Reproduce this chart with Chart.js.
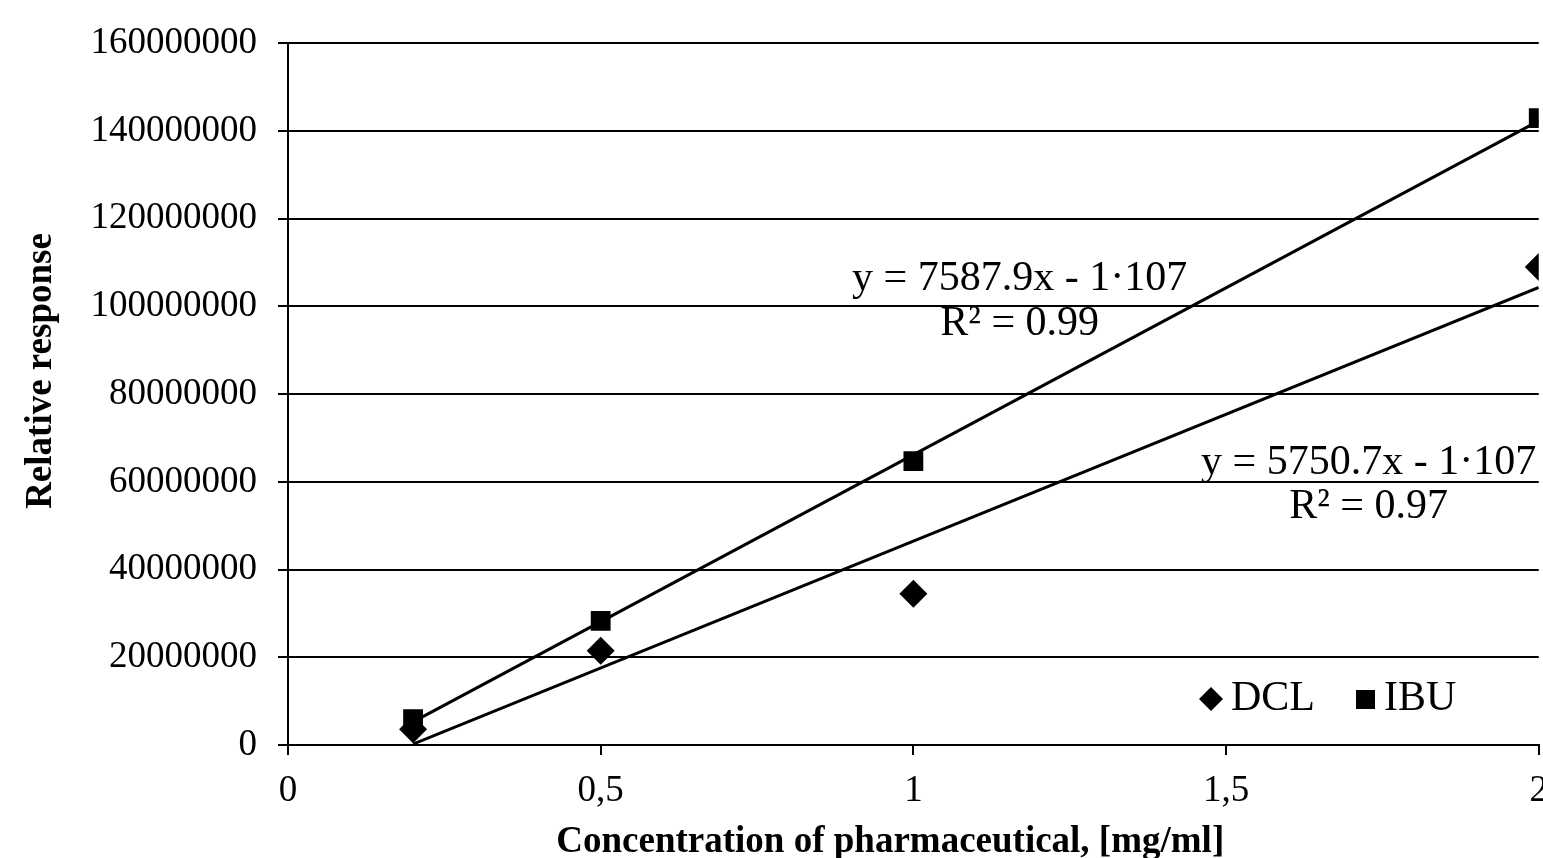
<!DOCTYPE html>
<html>
<head>
<meta charset="utf-8">
<script src="https://cdn.jsdelivr.net/npm/chart.js@4"></script>
<style>
  html, body { margin: 0; padding: 0; background: #fff; overflow: hidden; }
  #wrap { width: 1562px; height: 858px; }
</style>
</head>
<body>
<div id="wrap"><canvas id="calib"></canvas></div>
<script>
// values
const concentrations = [0.2, 0.5, 1, 2];
const dclResponse = [3600000, 21500000, 34500000, 109000000];
const ibuResponse = [5900000, 28300000, 64700000, 142900000];
const seriesNames = ['DCL', 'IBU'];
const xTicks = [0, 0.5, 1, 1.5, 2];
const yTicks = [0, 20000000, 40000000, 60000000, 80000000, 100000000, 120000000, 140000000, 160000000];
const eqLabels = [
    ['y = 5750.7x - 1·107', 'R² = 0.97'],
    ['y = 7587.9x - 1·107', 'R² = 0.99']
];

const serif = "'Times New Roman', 'Liberation Serif', serif";
const pad = n => '\u00a0'.repeat(n); // nudges centred titles off the plot centre

// least squares line through the points, drawn from first to last x
function trend(xs, ys) {
    const n = xs.length;
    const mx = xs.reduce((a, b) => a + b, 0) / n;
    const my = ys.reduce((a, b) => a + b, 0) / n;
    let sxy = 0, sxx = 0;
    for (let i = 0; i < n; i++) {
        sxy += (xs[i] - mx) * (ys[i] - my);
        sxx += (xs[i] - mx) * (xs[i] - mx);
    }
    const k = sxy / sxx, b = my - k * mx;
    const x0 = xs[0], x1 = xs[n - 1];
    return [{x: x0, y: k * x0 + b}, {x: x1, y: k * x1 + b}];
}

const pts = ys => concentrations.map((x, i) => ({x: x, y: ys[i]}));

// equation text anchors, in data units
const eqPos = [
    {x: 1.728, y: [64200000, 54200000]},
    {x: 1.170, y: [106300000, 96000000]}
];

const textPlugin = {
    id: 'extras',
    afterDraw(chart) {
        const ctx = chart.ctx;
        const xs = chart.scales.x, ys = chart.scales.y;
        ctx.save();
        ctx.fillStyle = '#000';
        ctx.font = '42px ' + serif;
        ctx.textAlign = 'center';
        ctx.textBaseline = 'middle';
        eqLabels.forEach((lines, i) => {
            const px = xs.getPixelForValue(eqPos[i].x);
            lines.forEach((t, j) => {
                ctx.fillText(t, px, ys.getPixelForValue(eqPos[i].y[j]));
            });
        });

        // legend inside plot, bottom right
        const ly = 699;
        ctx.textAlign = 'left';
        let lx = 1199;
        ctx.beginPath();
        ctx.moveTo(lx + 12, ly - 12);
        ctx.lineTo(lx + 24, ly);
        ctx.lineTo(lx + 12, ly + 12);
        ctx.lineTo(lx, ly);
        ctx.closePath();
        ctx.fill();
        ctx.fillText(seriesNames[0], lx + 32, ly);
        lx = 1356;
        ctx.fillRect(lx, ly - 9, 19, 19);
        ctx.fillText(seriesNames[1], lx + 28, ly);
        ctx.restore();
    }
};

new Chart(document.getElementById('calib'), {
    type: 'scatter',
    data: {
        datasets: [{
            label: seriesNames[0],
            data: pts(dclResponse),
            pointStyle: 'rectRot',
            pointRadius: 14,
            backgroundColor: '#000',
            borderColor: '#000',
            borderWidth: 0,
            order: 0
        }, {
            label: seriesNames[1],
            data: pts(ibuResponse),
            pointStyle: 'rect',
            pointRadius: 14,
            backgroundColor: '#000',
            borderColor: '#000',
            borderWidth: 0,
            order: 0
        }, {
            type: 'line',
            label: 'trend DCL',
            data: trend(concentrations, dclResponse),
            borderColor: '#000',
            borderWidth: 3,
            pointRadius: 0,
            fill: false,
            order: 1
        }, {
            type: 'line',
            label: 'trend IBU',
            data: trend(concentrations, ibuResponse),
            borderColor: '#000',
            borderWidth: 3,
            pointRadius: 0,
            fill: false,
            order: 1
        }]
    },
    options: {
        responsive: true,
        maintainAspectRatio: false,
        animation: false,
        layout: { padding: { top: 42, left: 0, right: 0, bottom: 0 } },
        plugins: {
            legend: { display: false },
            tooltip: { enabled: false }
        },
        scales: {
            x: {
                type: 'linear',
                min: 0,
                max: 2,
                afterBuildTicks: s => { s.ticks = xTicks.map(v => ({value: v})); },
                afterFit: s => { s.height = 113; },
                ticks: {
                    color: '#000',
                    font: { family: serif, size: 37 },
                    padding: 14,
                    maxRotation: 0,
                    callback: v => String(v).replace('.', ',')
                },
                grid: { drawOnChartArea: false, drawTicks: true, tickLength: 10, color: '#000', lineWidth: 2 },
                border: { display: true, color: '#000', width: 2 },
                title: {
                    display: true,
                    text: 'Concentration of pharmaceutical, [mg/ml]' + pad(5),
                    color: '#000',
                    font: { family: serif, size: 37, weight: 'bold' },
                    padding: { top: 0, bottom: -7 }
                }
            },
            y: {
                min: 0,
                max: 160000000,
                afterBuildTicks: s => { s.ticks = yTicks.map(v => ({value: v})); },
                afterFit: s => { s.width = 288; },
                ticks: {
                    color: '#000',
                    font: { family: serif, size: 37 },
                    padding: 21,
                    callback: v => String(v)
                },
                grid: { color: '#000', lineWidth: 2, tickLength: 10 },
                border: { display: true, color: '#000', width: 2 },
                title: {
                    display: true,
                    text: pad(5) + 'Relative response',
                    color: '#000',
                    font: { family: serif, size: 37, weight: 'bold' },
                    padding: { top: 19, bottom: 0 }
                }
            }
        }
    },
    plugins: [textPlugin]
});
</script>
</body>
</html>
